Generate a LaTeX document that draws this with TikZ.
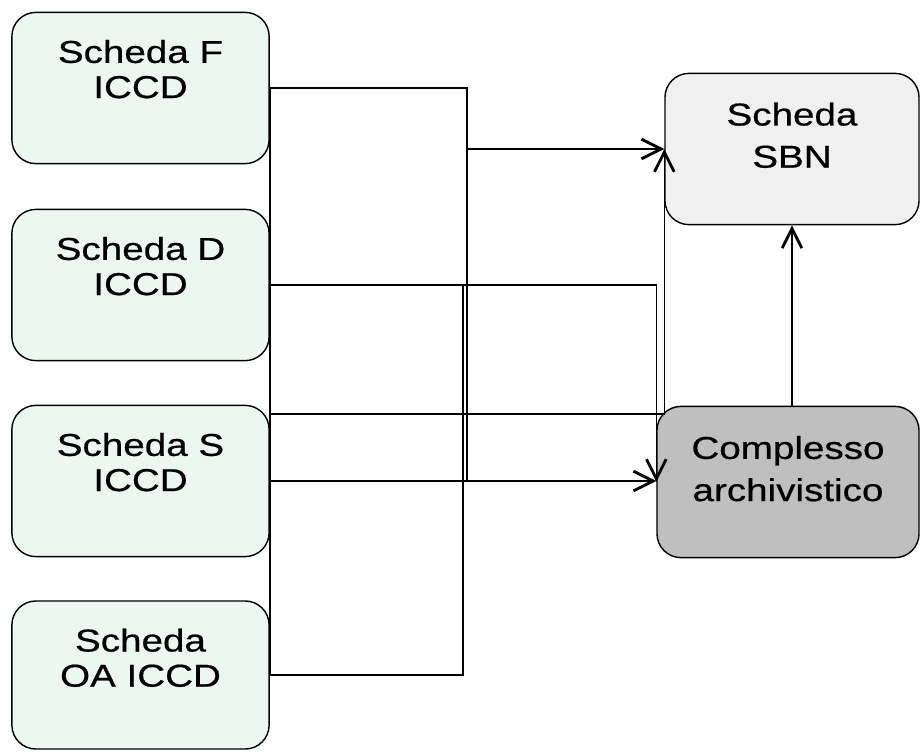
\documentclass[tikz,border=0pt]{standalone}
\usepackage{fontspec}
\setmainfont{Liberation Sans}[FakeStretch=1.22,FakeBold=0.6]
\usetikzlibrary{arrows.meta,positioning}
\definecolor{cardgreen}{RGB}{237,247,241}
\definecolor{sbngray}{RGB}{240,240,240}
\definecolor{archgray}{RGB}{191,191,191}

\begin{document}
\begin{tikzpicture}[x=0.025cm,y=-0.025cm,
	card_node/.style={draw,line width=1pt,rounded corners=0.6cm,fill=cardgreen,minimum width=6.43cm,minimum height=3.78cm,inner sep=0pt},
	sbn_node/.style={card_node,fill=sbngray,minimum width=6.35cm},
	arch_node/.style={card_node,fill=archgray,minimum width=6.55cm},
	card_text/.style={inner sep=0pt,align=center,font=\fontsize{22.5}{25}\selectfont},
	right_text/.style={card_text,font=\fontsize{22.5}{30}\selectfont},
	link/.style={line width=1pt},
	arrow_link/.style={link,-{Straight Barb[length=14pt,width=14pt,line width=2pt]}}]
	\useasboundingbox (0,0) rectangle (920,751);

	\node[card_node] (f) at (140.5,88) {};
	\node[card_node] (d) at (140.5,285) {};
	\node[card_node] (s) at (140.5,481) {};
	\node[card_node,minimum height=3.7cm] (oa) at (140.5,675) {};
	\node[sbn_node] (sbn) at (792,149) {};
	\node[arch_node] (arch) at (788,482) {};

	\node[card_text,below=0.7cm of f.north] (f_text) {Scheda F\\ICCD};
	\node[card_text,below=0.7cm of d.north] (d_text) {Scheda D\\ICCD};
	\node[card_text,below=0.7cm of s.north] (s_text) {Scheda S\\ICCD};
	\node[card_text,below=0.7cm of oa.north] (oa_text) {Scheda\\OA ICCD};
	\node[right_text,below=0.74cm of sbn.north] (sbn_text) {Scheda\\SBN};
	\node[right_text,below=0.75cm of arch.north] (arch_text) {Complesso\\archivistico};

	\coordinate (col_a) at (467,0);
	\coordinate (col_b) at (463,0);
	\coordinate (tap) at (269,414);

	\draw[link] (f.east) -- (oa.east);
	\draw[arrow_link] (f.east) -| (col_a |- sbn.west) -- (sbn.west);
	\draw[link] (col_a |- sbn.west) -- (col_a |- s.east);
	\draw[arrow_link] (s.east) -- (s.east -| arch.west);
	\draw[arrow_link] (d.east) -| (arch.west);
	\draw[link] (oa.east) -| (col_b |- d.east);
	\draw[arrow_link] (tap) -| (sbn.west);
	\draw[arrow_link] (sbn.south |- arch.north) -- (sbn.south);
\end{tikzpicture}
\end{document}
